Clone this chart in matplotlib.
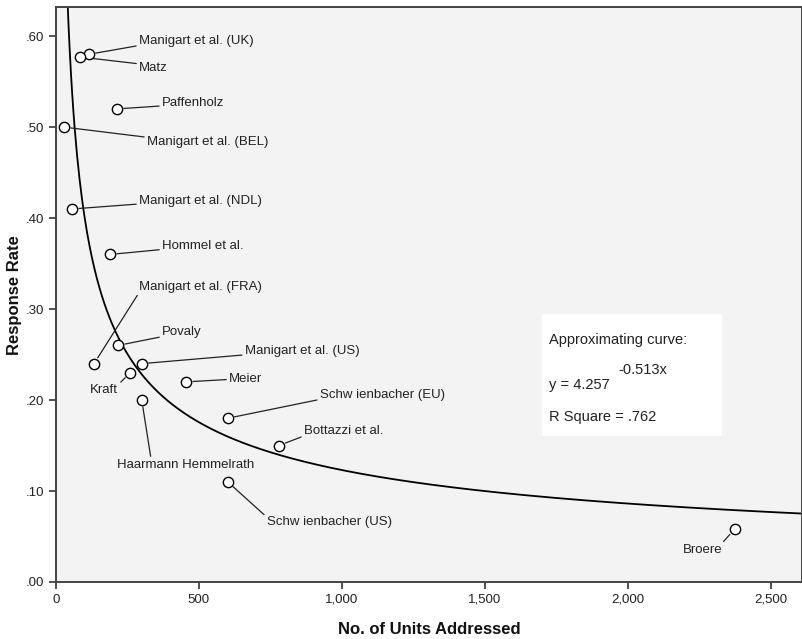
import numpy as np
import matplotlib
matplotlib.use("Agg")
import matplotlib.pyplot as plt
from matplotlib.ticker import FuncFormatter

plt.rcParams['font.family'] = ['Liberation Sans', 'DejaVu Sans']

# studies: units addressed vs response rate
names = ["Manigart et al. (UK)", "Matz", "Paffenholz", "Manigart et al. (BEL)",
         "Manigart et al. (NDL)", "Hommel et al.", "Manigart et al. (FRA)", "Povaly",
         "Manigart et al. (US)", "Kraft", "Meier", "Schw ienbacher (EU)",
         "Bottazzi et al.", "Haarmann Hemmelrath", "Schw ienbacher (US)", "Broere"]
units = [115, 84, 213, 28, 56, 189, 133, 217, 300, 259, 455, 601, 780, 300, 601, 2374]
rate = [0.58, 0.577, 0.52, 0.50, 0.41, 0.36, 0.24, 0.26, 0.24, 0.23, 0.22, 0.18,
        0.15, 0.20, 0.11, 0.058]

# label offsets in pixels (dx, dy) and where the leader line meets the text
offsets = [(50, 13), (59, -11), (45, 6), (83, -15), (67, 8), (52, 8), (45, 77), (44, 13),
           (103, 13), (-12, -17), (43, 3), (92, 23), (25, 15), (-25, -65), (39, -40), (-12, -21)]
relpos = [(0, 0.15), (0, 0.85), (0, 0.25), (0, 0.9), (0, 0.25), (0, 0.25), (0, 0.0), (0, 0.15),
          (0, 0.15), (1, 0.9), (0, 0.45), (0, 0.15), (0, 0.05), (0.25, 1), (0, 0.9), (0.95, 0.95)]
align = ['left'] * 9 + ['right'] + ['left'] * 5 + ['right']

# power fit reported on the chart
fit_a = 4.257
fit_b = -0.513

fig = plt.figure(figsize=(8.02, 6.39), dpi=100)
ax = fig.add_axes([56 / 802, 57 / 639, 746 / 802, 575 / 639])
ax.set_facecolor('#f3f3f3')

xx = np.linspace(35, 2620, 600)
ax.plot(xx, fit_a * xx ** fit_b, color='black', lw=1.3, zorder=2)

for i in range(len(names)):
    dx, dy = offsets[i]
    ax.annotate(names[i], (units[i], rate[i]), xytext=(dx, dy), textcoords='offset pixels',
                ha=align[i], va='center', fontsize=9.5, color='#222222',
                arrowprops=dict(arrowstyle='-', color='#222222', lw=0.9, shrinkA=0, shrinkB=5,
                                relpos=relpos[i]), zorder=3)

ax.scatter(units, rate, s=55, facecolors='white', edgecolors='black', linewidths=1.0, zorder=4)

ax.set_xlim(0, 2610)
ax.set_ylim(0, 0.632)
ax.set_xticks([0, 500, 1000, 1500, 2000, 2500])
ax.set_yticks([0, 0.1, 0.2, 0.3, 0.4, 0.5, 0.6])
ax.xaxis.set_major_formatter(FuncFormatter(lambda v, p: f"{int(v):,}"))
ax.yaxis.set_major_formatter(FuncFormatter(lambda v, p: f"{v:.2f}"[1:]))
ax.tick_params(direction='out', length=5, width=1.2, color='#333333', labelsize=9.5,
               labelcolor='#222222')
for s in ['left', 'bottom', 'top', 'right']:
    ax.spines[s].set_color('#444444')
    ax.spines[s].set_linewidth(1.4)

fig.text(429 / 802, (639 - 629) / 639, "No. of Units Addressed", fontsize=12,
         fontweight='bold', ha='center', va='center', color='#111111')
fig.text(15 / 802, (639 - 295) / 639, "Response Rate", fontsize=12, fontweight='bold',
         rotation=90, ha='center', va='center', color='#111111')

# fit summary box
bx = ax.transData.inverted()
x0, y0 = bx.transform((542, 639 - 436))
x1, y1 = bx.transform((722, 639 - 314))
ax.add_patch(plt.Rectangle((x0, y0), x1 - x0, y1 - y0, facecolor='white', edgecolor='none', zorder=1))
tx, _ = bx.transform((549, 0))
_, ty1 = bx.transform((0, 639 - 340))
_, ty2 = bx.transform((0, 639 - 385))
_, ty3 = bx.transform((0, 639 - 417))
_, tys = bx.transform((0, 639 - 370))
sx, _ = bx.transform((618, 0))
ax.text(tx, ty1, "Approximating curve:", fontsize=10.5, va='center', color='#222222')
ax.text(tx, ty2, f"y = {fit_a}", fontsize=10.5, va='center', color='#222222')
ax.text(sx, tys, f"{fit_b}x", fontsize=10.5, va='center', color='#222222')
ax.text(tx, ty3, "R Square = .762", fontsize=10.5, va='center', color='#222222')

fig.savefig("out.png", dpi=100)
